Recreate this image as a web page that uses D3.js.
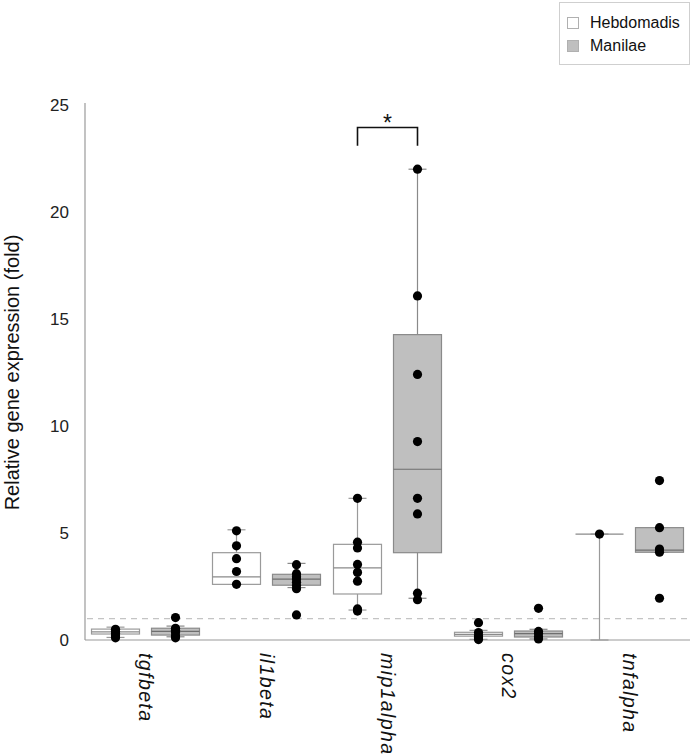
<!DOCTYPE html>
<html>
<head>
<meta charset="utf-8">
<script src="https://cdn.jsdelivr.net/npm/d3@7"></script>
<style>
  html, body { margin: 0; padding: 0; background: #fff; }
  svg { display: block; font-family: Arial, "Liberation Sans", Helvetica, sans-serif; }
</style>
</head>
<body>
<svg id="chart" width="693" height="756"></svg>
<script>
// ---------- data ----------
const categories = ["tgfbeta", "il1beta", "mip1alpha", "cox2", "tnfalpha"];
const series = ["Hebdomadis", "Manilae"];
const yTicks = [0, 5, 10, 15, 20, 25];

// box statistics per category (whisker low, Q1, median, Q3, whisker high)
const hebLow  = [0.12, 2.60, 1.40, 0.03, 0.00];
const hebQ1   = [0.28, 2.60, 2.15, 0.18, 4.95];
const hebMed  = [0.38, 2.95, 3.37, 0.26, 4.95];
const hebQ3   = [0.51, 4.08, 4.47, 0.36, 4.95];
const hebHigh = [0.60, 5.15, 6.62, 0.45, 4.95];

const manLow  = [0.15, 2.45, 1.95, 0.05, 4.10];
const manQ1   = [0.23, 2.56, 4.08, 0.14, 4.10];
const manMed  = [0.40, 2.84, 7.98, 0.30, 4.20];
const manQ3   = [0.55, 3.07, 14.27, 0.42, 5.25];
const manHigh = [0.65, 3.58, 22.00, 0.50, 5.25];

// individual points
const hebDots = [
  [0.50, 0.40, 0.30, 0.20, 0.10],
  [5.10, 4.40, 3.80, 3.20, 2.60],
  [6.62, 4.57, 4.30, 3.53, 3.16, 2.75, 1.45, 1.35],
  [0.81, 0.35, 0.20, 0.10, 0.02],
  [4.95]
];
const manDots = [
  [1.05, 0.55, 0.45, 0.35, 0.20, 0.10],
  [3.52, 3.10, 2.95, 2.85, 2.70, 2.55, 2.40, 1.17],
  [22.00, 16.08, 12.41, 9.27, 6.62, 5.89, 2.19, 1.88],
  [1.48, 0.40, 0.30, 0.15, 0.05],
  [7.45, 5.25, 4.25, 4.10, 1.95]
];

const refLine = 1;          // dashed reference level
const sigPair = "mip1alpha"; // bracket with asterisk
const sigLevel = [23.1, 23.95];

// ---------- layout ----------
const svg = d3.select("#chart");
const x0 = 85, x1 = 690, yTop = 105, yBottom = 640;

const y = d3.scaleLinear().domain([0, 25]).range([yBottom, yTop]);
const x = d3.scaleBand().domain(categories).range([x0, x1]).padding(0);
const xs = d3.scaleBand().domain(series).range([-60, 60]).paddingInner(0.2).paddingOuter(0.1);
const boxW = xs.bandwidth();
const capW = 18;

const fills = { Hebdomadis: "#ffffff", Manilae: "#bfbfbf" };
const strokes = { Hebdomadis: "#9a9a9a", Manilae: "#8a8a8a" };
const medStroke = { Hebdomadis: "#8a8a8a", Manilae: "#6e6e6e" };

const stats = {
  Hebdomadis: categories.map((c, i) => ({ c, low: hebLow[i], q1: hebQ1[i], med: hebMed[i], q3: hebQ3[i], high: hebHigh[i], dots: hebDots[i] })),
  Manilae: categories.map((c, i) => ({ c, low: manLow[i], q1: manQ1[i], med: manMed[i], q3: manQ3[i], high: manHigh[i], dots: manDots[i] }))
};

// axes lines (no ticks)
svg.append("line").attr("x1", x0).attr("x2", x0).attr("y1", yTop - 2).attr("y2", yBottom)
  .attr("stroke", "#9a9a9a").attr("stroke-width", 1.2);
svg.append("line").attr("x1", x0).attr("x2", x1).attr("y1", y(0)).attr("y2", y(0))
  .attr("stroke", "#9a9a9a").attr("stroke-width", 1.2);

// y tick labels
svg.append("g").selectAll("text").data(yTicks).join("text")
  .attr("x", 69).attr("y", d => y(d)).attr("dy", "0.36em")
  .attr("text-anchor", "end").attr("font-size", 17).attr("fill", "#222")
  .text(d => d);

// y title
svg.append("text")
  .attr("transform", `translate(19, ${(yTop + yBottom) / 2}) rotate(-90)`)
  .attr("text-anchor", "middle").attr("font-size", 20).attr("fill", "#111")
  .text("Relative gene expression (fold)");

// dashed reference line
svg.append("line").attr("x1", x0 + 2).attr("x2", x1 - 2).attr("y1", y(refLine)).attr("y2", y(refLine))
  .attr("stroke", "#c4c4c4").attr("stroke-width", 1.2).attr("stroke-dasharray", "6,5");

// boxes
series.forEach(s => {
  const g = svg.append("g");
  const grp = g.selectAll("g").data(stats[s]).join("g")
    .attr("transform", d => `translate(${x(d.c) + x.bandwidth() / 2 + xs(s) + boxW / 2},0)`);
  grp.append("line").attr("x1", 0).attr("x2", 0)
    .attr("y1", d => y(d.low)).attr("y2", d => y(d.high))
    .attr("stroke", strokes[s]).attr("stroke-width", 1.2);
  grp.append("line").attr("x1", -capW / 2).attr("x2", capW / 2)
    .attr("y1", d => y(d.high)).attr("y2", d => y(d.high))
    .attr("stroke", strokes[s]).attr("stroke-width", 1.2);
  grp.append("line").attr("x1", -capW / 2).attr("x2", capW / 2)
    .attr("y1", d => y(d.low)).attr("y2", d => y(d.low))
    .attr("stroke", strokes[s]).attr("stroke-width", 1.2);
  grp.append("rect").attr("x", -boxW / 2).attr("width", boxW)
    .attr("y", d => y(d.q3)).attr("height", d => Math.max(0, y(d.q1) - y(d.q3)))
    .attr("fill", fills[s]).attr("stroke", strokes[s]).attr("stroke-width", 1.2);
  grp.append("line").attr("x1", -boxW / 2).attr("x2", boxW / 2)
    .attr("y1", d => y(d.med)).attr("y2", d => y(d.med))
    .attr("stroke", medStroke[s]).attr("stroke-width", 1.2);
  grp.selectAll("circle").data(d => d.dots).join("circle")
    .attr("cx", 0).attr("cy", v => y(v)).attr("r", 4.6).attr("fill", "#000");
});

// significance bracket
const bx1 = x(sigPair) + x.bandwidth() / 2 + xs("Hebdomadis") + boxW / 2;
const bx2 = x(sigPair) + x.bandwidth() / 2 + xs("Manilae") + boxW / 2;
svg.append("path")
  .attr("d", `M${bx1},${y(sigLevel[0])} V${y(sigLevel[1])} H${bx2} V${y(sigLevel[0])}`)
  .attr("fill", "none").attr("stroke", "#111").attr("stroke-width", 1.6);
svg.append("text").attr("x", (bx1 + bx2) / 2).attr("y", y(sigLevel[1]) + 4)
  .attr("text-anchor", "middle").attr("font-size", 23).attr("fill", "#111").text("*");

// x labels
svg.append("g").selectAll("text").data(categories).join("text")
  .attr("transform", d => `translate(${x(d) + x.bandwidth() / 2}, 653) rotate(90)`)
  .attr("dy", "0.35em").attr("text-anchor", "start")
  .attr("font-size", 19.5).attr("font-style", "italic").attr("letter-spacing", 1.4)
  .attr("fill", "#111").text(d => d);

// legend
const lg = svg.append("g");
lg.append("rect").attr("x", 559.5).attr("y", 2.5).attr("width", 130).attr("height", 62)
  .attr("fill", "#fff").attr("stroke", "#cfcfcf").attr("stroke-width", 1);
series.forEach((s, i) => {
  lg.append("rect").attr("x", 567.5).attr("y", 17.5 + i * 23).attr("width", 11).attr("height", 11)
    .attr("fill", fills[s]).attr("stroke", "#b0b0b0");
  lg.append("text").attr("x", 590).attr("y", 28 + i * 23)
    .attr("font-size", 16).attr("fill", "#111").text(s);
});
</script>
</body>
</html>
